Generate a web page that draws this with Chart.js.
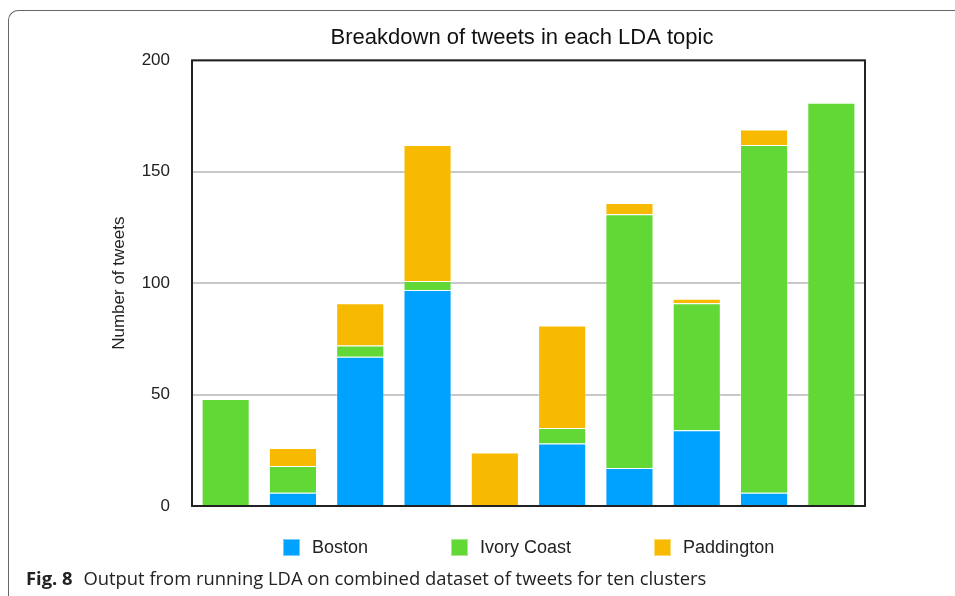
<!DOCTYPE html>
<html>
<head>
<meta charset="utf-8">
<script src="https://cdn.jsdelivr.net/npm/chart.js@4.4.1/dist/chart.umd.min.js"></script>
<style>
  body { margin: 0; background: #fff; }
  #wrap { position: relative; width: 955px; height: 596px; overflow: hidden; }
  #frame {
    position: absolute; left: 8px; top: 10px; width: 1000px; height: 700px;
    border-left: 1.5px solid #666; border-top: 1.5px solid #666;
    border-top-left-radius: 10px;
  }
  #legend {
    position: absolute; top: 538px; display: flex; gap: 83px;
    font: 18px "Liberation Sans", Arial, sans-serif; color: #222;
  }
  .item { display: flex; align-items: center; height: 18px; }
  .box { width: 17px; height: 17px; margin-right: 12px; box-sizing: border-box; border: 1px solid rgba(255,255,255,0.45); }
  #caption {
    position: absolute; left: 26px; top: 565px; white-space: nowrap;
    font: 18.4px "Open Sans", sans-serif; color: #222;
  }
  #caption b { margin-right: 6px; }
</style>
</head>
<body>
<div id="wrap">
  <canvas id="myChart" width="955" height="596"></canvas>
  <div id="frame"></div>
  <div id="legend"></div>
  <div id="caption"><b>Fig. 8</b> Output from running LDA on combined dataset of tweets for ten clusters</div>
</div>
<script>
const topics = ["Topic 1", "Topic 2", "Topic 3", "Topic 4", "Topic 5",
                "Topic 6", "Topic 7", "Topic 8", "Topic 9", "Topic 10"];
const boston     = [0, 6, 67, 97, 0, 28, 17, 34, 6, 0];
const ivoryCoast = [48, 12, 5, 4, 0, 7, 114, 57, 156, 181];
const paddington = [0, 8, 19, 61, 24, 46, 5, 2, 7, 0];
const yTicks = [0, 50, 100, 150, 200];

const colores = {
  boston: "#00A2FF",
  ivory: "#61D836",
  paddington: "#F8BA00"
};

// marco negro alrededor del area de dibujo
const plotBorder = {
  id: "plotBorder",
  afterDraw(chart) {
    const { ctx, chartArea: a } = chart;
    ctx.save();
    ctx.strokeStyle = "#222";
    ctx.lineWidth = 2;
    ctx.strokeRect(a.left, a.top, a.right - a.left, a.bottom - a.top);
    ctx.restore();
  }
};

const myChart = new Chart("myChart", {
  type: "bar",
  data: {
    labels: topics,
    datasets: [
      { label: "Boston", data: boston, backgroundColor: colores.boston },
      { label: "Ivory Coast", data: ivoryCoast, backgroundColor: colores.ivory },
      { label: "Paddington", data: paddington, backgroundColor: colores.paddington }
    ]
  },
  options: {
    responsive: false,
    animation: false,
    devicePixelRatio: 1,
    datasets: {
      bar: {
        categoryPercentage: 1,
        barPercentage: 0.715,
        borderWidth: 1,
        borderColor: "rgba(255,255,255,0.35)"
      }
    },
    layout: { padding: { left: 92, right: 3, top: 25, bottom: 90 } },
    plugins: {
      legend: { display: false },
      tooltip: { enabled: false },
      title: {
        display: true,
        text: "Breakdown of tweets in each LDA topic",
        color: "#111",
        font: { family: "Liberation Sans", size: 22, weight: "normal" },
        padding: { top: 0, bottom: 9 }
      }
    },
    scales: {
      x: { stacked: true, display: false },
      y: {
        stacked: true,
        min: 0,
        max: 200,
        afterBuildTicks: (axis) => { axis.ticks = yTicks.map(v => ({ value: v })); },
        afterFit: (axis) => { axis.width = 100; },
        border: { display: false },
        grid: { color: "#c8c8c8", lineWidth: 2, drawTicks: false },
        ticks: {
          padding: 22,
          color: "#222",
          font: { family: "Liberation Sans", size: 17 }
        },
        title: {
          display: true,
          text: "Number of tweets",
          color: "#222",
          font: { family: "Liberation Sans", size: 17 },
          padding: { top: 17, bottom: 0 }
        }
      },
      y2: {
        position: "right",
        display: true,
        min: 0,
        max: 200,
        afterFit: (axis) => { axis.width = 87; },
        border: { display: false },
        grid: { display: false },
        ticks: { display: false }
      }
    }
  },
  plugins: [plotBorder]
});

// leyenda en html a partir de los datasets
const legend = document.getElementById("legend");
myChart.data.datasets.forEach(ds => {
  const item = document.createElement("div");
  item.className = "item";
  const box = document.createElement("span");
  box.className = "box";
  box.style.background = ds.backgroundColor;
  item.appendChild(box);
  item.appendChild(document.createTextNode(ds.label));
  legend.appendChild(item);
});
const area = myChart.chartArea;
legend.style.left = ((area.left + area.right) / 2 - legend.offsetWidth / 2) + "px";
</script>
</body>
</html>
